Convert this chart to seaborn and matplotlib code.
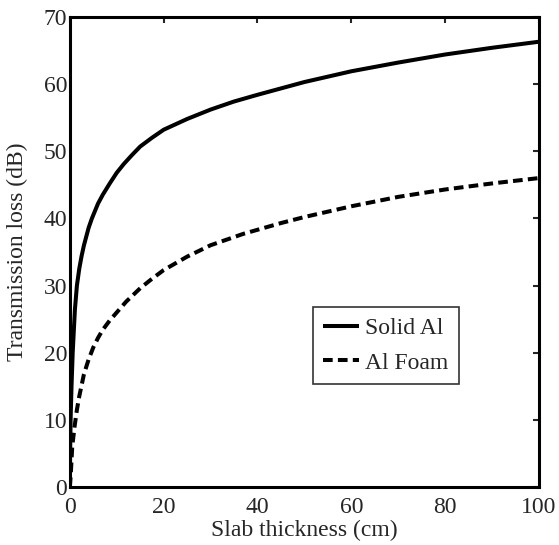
import matplotlib
matplotlib.use("Agg")
import matplotlib.pyplot as plt
import seaborn as sns
import pandas as pd

sns.set_style("white")
plt.rcParams['font.family'] = ['Liberation Serif', 'DejaVu Serif']

# values
solid_x = [0, 0.05, 0.15, 0.35, 0.6, 1.07, 1.5, 2, 2.5, 3, 4, 4.7, 6, 7, 8.5, 10,
           11.5, 13.2, 15, 17.5, 20, 25, 30, 35, 40, 50, 60, 70, 80, 90, 100]
solid_tl = [0, 5, 10, 15, 20, 26.4, 30, 32.5, 34.4, 36, 38.6, 40, 42.2, 43.5, 45.2, 46.8,
            48.1, 49.4, 50.7, 52, 53.2, 54.8, 56.2, 57.4, 58.4, 60.3, 61.9, 63.2, 64.4, 65.4, 66.3]
foam_x = [0, 0.2, 0.5, 1, 1.5, 2, 3, 4, 5, 6, 7, 8.5, 10, 12, 15, 17.5, 20, 25, 30,
          37, 45, 50, 60, 70, 80, 90, 100]
foam_tl = [0, 2, 6, 9, 11.5, 13.5, 16.8, 19, 20.8, 22.2, 23.4, 24.8, 26, 27.6, 29.6, 31,
           32.3, 34.3, 36, 37.7, 39.3, 40.2, 41.8, 43.2, 44.3, 45.2, 46]

df = pd.concat([
    pd.DataFrame({"x": solid_x, "tl": solid_tl, "Material": "Solid Al"}),
    pd.DataFrame({"x": foam_x, "tl": foam_tl, "Material": "Al Foam"}),
])

fs = 17
fig = plt.figure(figsize=(5.59, 5.45), dpi=100)
ax = fig.add_axes([0.125, 0.1064, 0.839, 0.8626])

sns.lineplot(data=df, x="x", y="tl", hue="Material", style="Material",
             palette=["black", "black"], dashes=[(1, 0), (2.4, 1.3)],
             linewidth=2.9, ax=ax, sort=False)

ax.set_xlim(0, 100)
ax.set_ylim(0, 70)
ax.set_xticks(range(0, 101, 20))
ax.set_yticks(range(0, 71, 10))
ax.set_xlabel("Slab thickness (cm)", fontsize=fs, labelpad=1)
ax.set_ylabel("Transmission loss (dB)", fontsize=fs, labelpad=11)
ax.tick_params(direction="in", length=4, width=1.5, labelsize=fs,
               top=True, right=True)
ax.tick_params(axis="x", pad=7.5)
ax.tick_params(axis="y", pad=2)
for s in ax.spines.values():
    s.set_linewidth(2.2)
    s.set_color("black")

leg = ax.legend(loc="upper left", bbox_to_anchor=(0.518, 0.383), fontsize=fs,
                frameon=True, fancybox=False, edgecolor="black",
                handlelength=1.5, handletextpad=0.25, borderpad=0.45,
                labelspacing=0.55, borderaxespad=0)
leg.get_frame().set_linewidth(1.2)
for line in leg.get_lines():
    line.set_linewidth(2.9)

fig.savefig("out.png", dpi=100)
